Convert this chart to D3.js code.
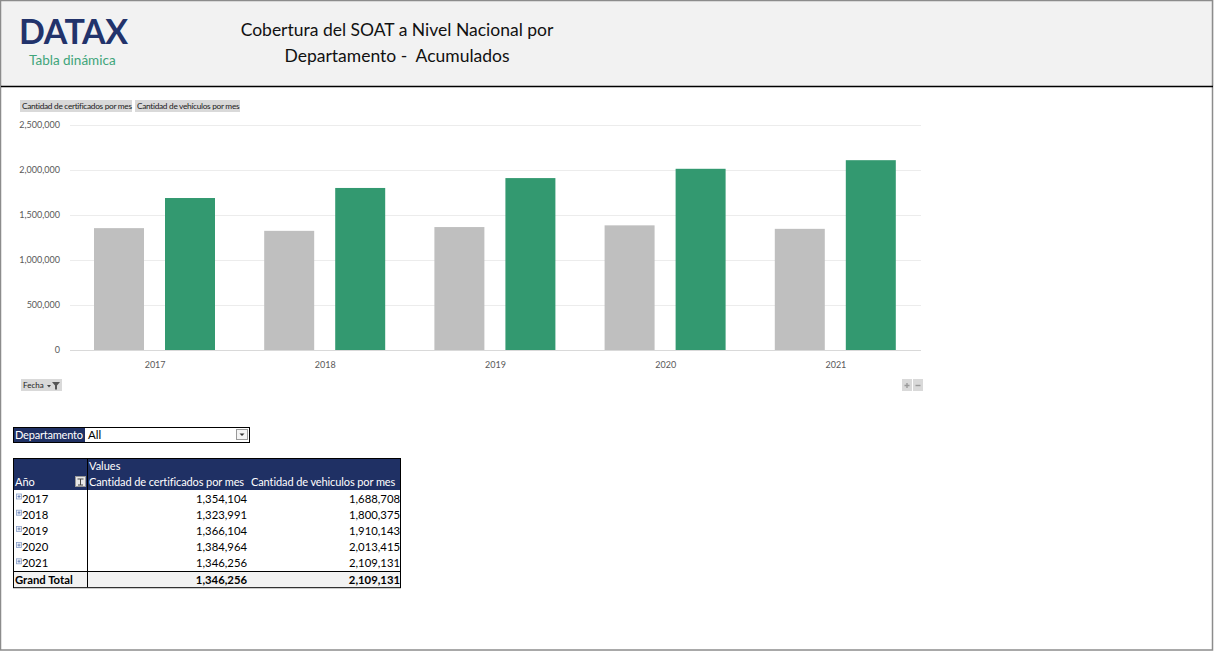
<!DOCTYPE html>
<html><head><meta charset="utf-8">
<script src="https://cdn.jsdelivr.net/npm/d3@7"></script>
<style>
html,body{margin:0;padding:0;background:#fff;}
svg{display:block;font-family:Lato, "Open Sans", sans-serif;}
</style></head>
<body>
<svg id="c" width="1214" height="651"></svg>
<script>
const years = ["2017","2018","2019","2020","2021"];
const seriesNames = ["Cantidad de certificados por mes","Cantidad de vehículos por mes"];
const certificados = [1354104,1323991,1366104,1384964,1346256];
const vehiculos = [1688708,1800375,1910143,2013415,2109131];
const yTicks = [0,500000,1000000,1500000,2000000,2500000];
const totalLabel = "Grand Total";
const totals = [1346256,2109131];
const tableHeaders = ["Cantidad de certificados por mes","Cantidad de vehiculos por mes"];
const colors = ["#bfbfbf","#339970"];

const svg = d3.select("#c");
const fmt = d3.format(",");

// Frame & header
svg.append("rect").attr("x",0).attr("y",0).attr("width",1214).attr("height",86).attr("fill","#f2f2f2");
svg.append("rect").attr("x",0.5).attr("y",0.5).attr("width",1212).attr("height",649.5).attr("fill","none").attr("stroke","#8c8c8c").attr("stroke-width",1.5);
svg.append("line").attr("x1",1).attr("x2",1213).attr("y1",86.5).attr("y2",86.5).attr("stroke","#000").attr("stroke-width",1.5);

// Logo
svg.append("text").attr("x",19).attr("y",44).attr("font-family","Lato, sans-serif").attr("font-weight",700)
  .attr("font-size",34).attr("fill","#22336b").attr("letter-spacing",-0.4).text("DATAX");
svg.append("text").attr("x",29).attr("y",65).attr("font-size",13.5).attr("fill","#3fa57a").text("Tabla dinámica");

// Title
const title = svg.append("g").attr("font-size",17.5).attr("fill","#111").attr("text-anchor","middle");
title.append("text").attr("x",397).attr("y",36).text("Cobertura del SOAT a Nivel Nacional por");
title.append("text").attr("x",397).attr("y",62).text("Departamento -\u00a0 Acumulados");

// Legend buttons
const legendBtns = [{x:20,w:112},{x:135,w:105}];
seriesNames.forEach((s,i)=>{
  const g = svg.append("g").attr("transform",`translate(${legendBtns[i].x},100)`);
  g.append("rect").attr("width",legendBtns[i].w).attr("height",12).attr("fill","#d9d9d9");
  g.append("text").attr("x",2).attr("y",9).attr("font-size",8.3).attr("fill","#222").attr("letter-spacing",-0.3).text(s);
});

// Chart
const x = d3.scaleBand().domain(years).range([70,921]);
const xs = d3.scaleBand().domain([0,1]).range([24,145]).paddingInner(0.296);
const y = d3.scaleLinear().domain([0,2500000]).range([350,125]);

const grid = svg.append("g");
yTicks.forEach(t=>{
  grid.append("line").attr("x1",70).attr("x2",921).attr("y1",y(t)+0.5).attr("y2",y(t)+0.5)
    .attr("stroke", t===0 ? "#d9d9d9" : "#ececec").attr("stroke-width",1);
});
const yAxis = d3.axisLeft(y).tickValues(yTicks).tickFormat(fmt).tickSize(0).tickPadding(0);
const ya = svg.append("g").attr("transform","translate(60,0)").call(yAxis);
ya.select(".domain").remove();
ya.selectAll("text").attr("font-size",9).attr("fill","#595959").attr("font-family","Lato, sans-serif");

const data = [certificados, vehiculos];
years.forEach((yr,i)=>{
  data.forEach((arr,j)=>{
    svg.append("rect").attr("x",x(yr)+xs(j)).attr("width",xs.bandwidth())
      .attr("y",y(arr[i])).attr("height",y(0)-y(arr[i])).attr("fill",colors[j]);
  });
});
const xAxis = d3.axisBottom(x).tickSize(0).tickPadding(0);
const xa = svg.append("g").attr("transform","translate(0,368)").call(xAxis);
xa.select(".domain").remove();
xa.selectAll("text").attr("font-size",9).attr("fill","#595959").attr("dy",0).attr("font-family","Lato, sans-serif");

// Fecha button
const fb = svg.append("g").attr("transform","translate(21,379)");
fb.append("rect").attr("width",41).attr("height",12).attr("fill","#d9d9d9");
fb.append("text").attr("x",2).attr("y",9).attr("font-size",8).attr("fill","#222").text("Fecha");
fb.append("path").attr("d","M26,6 l4,0 l-2,2.5 z").attr("fill","#444");
fb.append("path").attr("d","M31,3 l8,0 l-3,3.5 l0,4 l-2,0 l0,-4 z").attr("fill","#555");

// +/- buttons
const pm = svg.append("g").attr("transform","translate(902,379)");
pm.append("rect").attr("width",10).attr("height",12).attr("fill","#d9d9d9");
pm.append("rect").attr("x",11).attr("width",10).attr("height",12).attr("fill","#d9d9d9");
pm.append("path").attr("d","M2.5,6.5 h5 M5,4 v5").attr("stroke","#9a9a9a").attr("stroke-width",1.4);
pm.append("path").attr("d","M13.5,6.5 h5").attr("stroke","#9a9a9a").attr("stroke-width",1.4);

// Departamento filter
const navy = "#1f3064";
const df = svg.append("g").attr("transform","translate(13,427)");
df.append("rect").attr("width",72).attr("height",15).attr("fill",navy);
df.append("rect").attr("x",72).attr("width",165).attr("height",15).attr("fill","#fff");
df.append("rect").attr("x",0.5).attr("y",0.5).attr("width",236).attr("height",15).attr("fill","none").attr("stroke","#000");
df.append("text").attr("x",2).attr("y",12).attr("font-size",11).attr("fill","#fff").attr("letter-spacing",-0.2).text("Departamento");
df.append("text").attr("x",75).attr("y",12).attr("font-size",11.5).attr("fill","#000").text("All");
df.append("rect").attr("x",223.5).attr("y",2.5).attr("width",11).attr("height",10).attr("fill","#f4f4f4").attr("stroke","#999");
df.append("path").attr("d","M226.5,6.5 l5,0 l-2.5,2.5 z").attr("fill","#333");

// Pivot table
const tx = 13, ty = 458, rowH = 16.2;
const tb = svg.append("g");
tb.append("rect").attr("x",tx).attr("y",ty).attr("width",388).attr("height",32).attr("fill",navy);
tb.append("rect").attr("x",tx).attr("y",ty+32+5*rowH).attr("width",388).attr("height",rowH+0.5).attr("fill","#f2f2f2");
tb.append("text").attr("x",89).attr("y",470).attr("font-size",11).attr("fill","#fff").text("Values");
tb.append("text").attr("x",15).attr("y",486).attr("font-size",11).attr("fill","#fff").text("Año");
tb.append("rect").attr("x",75.5).attr("y",476.5).attr("width",10).attr("height",10).attr("fill","#e8e8e8").attr("stroke","#999");
tb.append("path").attr("d","M77.5,479 l6,0 M80.5,479 l0,6 M78,485 l5,0").attr("stroke","#444").attr("fill","none");
tableHeaders.forEach((h,i)=>{
  tb.append("text").attr("x", i===0 ? 89 : 251).attr("y",486).attr("font-size",11).attr("fill","#fff").attr("letter-spacing",-0.1).text(h);
});
years.forEach((yr,i)=>{
  const yy = ty+32+i*rowH+12.5;
  tb.append("rect").attr("x",16.5).attr("y",yy-8.5).attr("width",5).attr("height",5).attr("fill","#eef2fa").attr("stroke","#8aa0c8").attr("stroke-width",0.8);
  tb.append("path").attr("d",`M17.5,${yy-6} h3 M19,${yy-7.5} v3`).attr("stroke","#4a6aa8").attr("stroke-width",0.7);
  tb.append("text").attr("x",22).attr("y",yy).attr("font-size",11.3).attr("fill","#000").text(yr);
  tb.append("text").attr("x",247).attr("y",yy).attr("text-anchor","end").attr("font-size",11.3).attr("fill","#000").text(fmt(certificados[i]));
  tb.append("text").attr("x",400).attr("y",yy).attr("text-anchor","end").attr("font-size",11.3).attr("fill","#000").text(fmt(vehiculos[i]));
});
const gy = ty+32+5*rowH+12.5;
tb.append("text").attr("x",15).attr("y",gy).attr("font-size",11.3).attr("font-weight",700).text(totalLabel);
tb.append("text").attr("x",247).attr("y",gy).attr("text-anchor","end").attr("font-size",11.3).attr("font-weight",700).text(fmt(totals[0]));
tb.append("text").attr("x",400).attr("y",gy).attr("text-anchor","end").attr("font-size",11.3).attr("font-weight",700).text(fmt(totals[1]));
// borders
const tH = 32+6*rowH;
tb.append("rect").attr("x",tx+0.5).attr("y",ty+0.5).attr("width",387).attr("height",tH).attr("fill","none").attr("stroke","#000");
tb.append("line").attr("x1",87.5).attr("x2",87.5).attr("y1",ty).attr("y2",ty+tH).attr("stroke","#000");
tb.append("line").attr("x1",tx).attr("x2",401).attr("y1",ty+32+5*rowH+0.5).attr("y2",ty+32+5*rowH+0.5).attr("stroke","#000");
</script>
</body></html>
